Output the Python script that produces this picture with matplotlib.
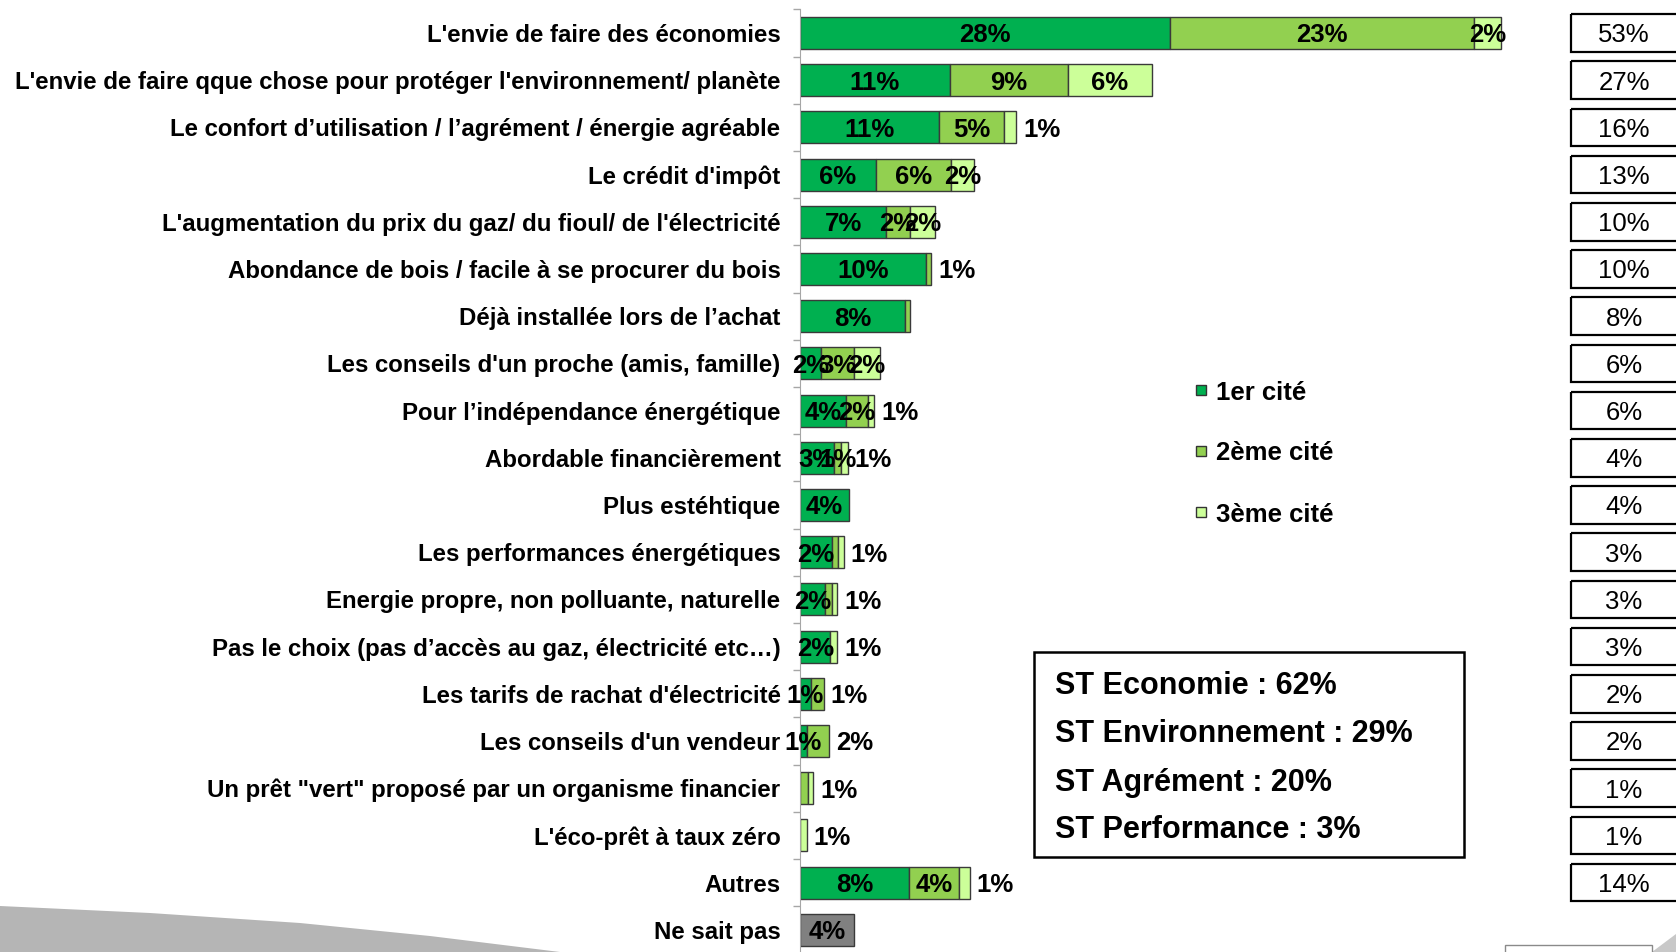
import numpy as np
import matplotlib
matplotlib.use('Agg')
import matplotlib.pyplot as plt
from matplotlib.patches import Rectangle, Polygon
from matplotlib.transforms import blended_transform_factory

# Data (% of respondents)
categories = [
    "L'envie de faire des économies",
    "L'envie de faire qque chose pour protéger l'environnement/ planète",
    "Le confort d’utilisation / l’agrément / énergie agréable",
    "Le crédit d'impôt",
    "L'augmentation du prix du gaz/ du fioul/ de l'électricité",
    "Abondance de bois / facile à se procurer du bois",
    "Déjà installée lors de l’achat",
    "Les conseils d'un proche (amis, famille)",
    "Pour l’indépendance énergétique",
    "Abordable financièrement",
    "Plus estéhtique",
    "Les performances énergétiques",
    "Energie propre, non polluante, naturelle",
    "Pas le choix (pas d’accès au gaz, électricité etc…)",
    "Les tarifs de rachat d'électricité",
    "Les conseils d'un vendeur",
    "Un prêt \"vert\" proposé par un organisme financier",
    "L'éco-prêt à taux zéro",
    "Autres",
    "Ne sait pas",
]
first = [27.9, 11.3, 10.5, 5.7, 6.5, 9.5, 7.9, 1.6, 3.5, 2.6, 3.7, 2.4, 1.9, 2.3, 0.8, 0.5, 0, 0, 8.2, 0]
second = [23.0, 8.9, 4.9, 5.7, 1.8, 0.4, 0.4, 2.5, 1.6, 0.5, 0, 0.5, 0.5, 0, 1.0, 1.7, 0.6, 0, 3.8, 0]
third = [2.0, 6.4, 0.9, 1.7, 1.9, 0, 0, 1.9, 0.5, 0.5, 0, 0.4, 0.4, 0.5, 0, 0, 0.4, 0.5, 0.8, 0]
nsp = [0] * 19 + [4.1]

lab1 = ['28%', '11%', '11%', '6%', '7%', '10%', '8%', '2%', '4%', '3%', '4%', '2%', '2%', '2%', '1%', '1%', '', '', '8%', '']
lab2 = ['23%', '9%', '5%', '6%', '2%', '', '', '3%', '2%', '1%', '', '', '', '', '', '', '', '', '4%', '']
lab3 = ['2%', '6%', '', '2%', '2%', '', '', '2%', '', '', '', '', '', '', '', '', '', '', '', '']
lab_out = ['', '', '1%', '', '', '1%', '', '', '1%', '1%', '', '1%', '1%', '1%', '1%', '2%', '1%', '1%', '1%', '']
lab_nsp = [''] * 19 + ['4%']

totals = ['53%', '27%', '16%', '13%', '10%', '10%', '8%', '6%', '6%', '4%', '4%',
          '3%', '3%', '3%', '2%', '2%', '1%', '1%', '14%']

series_names = ['1er cité', '2ème cité', '3ème cité']
colors = ['#00B050', '#92D050', '#CCFF99']
nsp_color = '#808080'

st_lines = ['ST Economie : 62%', 'ST Environnement : 29%',
            'ST Agrément : 20%', 'ST Performance : 3%']

plt.rcParams['font.family'] = ['Liberation Sans', 'DejaVu Sans']

W, H = 1676, 952
fig = plt.figure(figsize=(W / 100, H / 100), dpi=100)
ax = fig.add_axes([800 / W, 0, 876 / W, 1])

px_per_pct = 13.25
row_h = 47.2
ax.set_xlim(0, 876 / px_per_pct)
ax.set_ylim((H - 33) / row_h, -33 / row_h)

y = np.arange(len(categories))
first = np.array(first)
second = np.array(second)
third = np.array(third)
nsp = np.array(nsp)
edge = '#3a3a3a'
bh = 0.68

lefts = [np.zeros(len(y)), first, first + second]
for vals, left, col in zip([first, second, third], lefts, colors):
    m = vals > 0
    ax.barh(y[m], vals[m], left=left[m], height=bh, color=col, edgecolor=edge, linewidth=1)
m = nsp > 0
ax.barh(y[m], nsp[m], height=bh, color=nsp_color, edgecolor=edge, linewidth=1)

# labels inside segments
for vals, left, labs in zip([first, second, third, nsp],
                            lefts + [np.zeros(len(y))],
                            [lab1, lab2, lab3, lab_nsp]):
    for i, t in enumerate(labs):
        if t:
            ax.text(left[i] + vals[i] / 2, i, t, ha='center', va='center_baseline',
                    fontsize=18.5, fontweight='bold', color='black')

ends = first + second + third + nsp
for i, t in enumerate(lab_out):
    if t:
        ax.annotate(t, (ends[i], i), xytext=(7, 0), textcoords='offset pixels',
                    ha='left', va='center_baseline', fontsize=18.5, fontweight='bold')

# axis styling
ax.set_yticks(y, categories, fontsize=17.3, fontweight='bold')
ax.tick_params(axis='y', which='major', length=0, pad=14)
ax.set_yticks(np.arange(-0.5, 19), minor=True)
ax.tick_params(axis='y', which='minor', length=5, color='#a6a6a6', width=1)
ax.xaxis.set_visible(False)
for s in ['top', 'right', 'bottom']:
    ax.spines[s].set_visible(False)
ax.spines['left'].set_color('#a6a6a6')
ax.spines['left'].set_bounds(-0.5, 19.7)
ax.patch.set_alpha(0)

# total boxes on the right
trans = blended_transform_factory(fig.transFigure, ax.transData)
for i, t in enumerate(totals):
    ax.add_patch(Rectangle((1571 / W, i - 0.4), 200 / W, 0.8, transform=trans,
                           fill=False, edgecolor='black', linewidth=1.6, clip_on=False))
    ax.text(1624 / W, i, t, transform=trans, ha='center', va='center_baseline', fontsize=18.5)


def fy(py):
    return 1 - py / H


# legend
for name, col, yc in zip(series_names, colors, [390, 451, 512]):
    fig.add_artist(Rectangle((1196 / W, fy(yc + 5)), 10 / W, 10 / H, transform=fig.transFigure,
                             facecolor=col, edgecolor='#333333', linewidth=1))
    fig.text(1216 / W, fy(yc), name, va='center_baseline', ha='left', fontsize=18.5, fontweight='bold')

# ST box
fig.add_artist(Rectangle((1034 / W, fy(857)), 430 / W, 205 / H, transform=fig.transFigure,
                         fill=False, edgecolor='black', linewidth=1.8))
for t, yc in zip(st_lines, [682, 731, 779, 827]):
    fig.text(1055 / W, fy(yc), t, va='center_baseline', ha='left', fontsize=22, fontweight='bold')

# decorative shapes at the bottom
swoosh = [(0, 906), (150, 913), (300, 923), (430, 936), (560, 952), (0, 952)]
fig.add_artist(Polygon([(x / W, fy(v)) for x, v in swoosh], closed=True, transform=fig.transFigure,
                       facecolor='#b5b5b5', edgecolor='none', zorder=0))
corner = [(1652, 952), (1676, 934), (1676, 952)]
fig.add_artist(Polygon([(x / W, fy(v)) for x, v in corner], closed=True, transform=fig.transFigure,
                       facecolor='#c8c8c8', edgecolor='none', zorder=0))
fig.add_artist(Rectangle((1505 / W, fy(960)), 147 / W, 15 / H, transform=fig.transFigure,
                         fill=False, edgecolor='#8a8a8a', linewidth=1))

fig.savefig('out.png', dpi=100)
